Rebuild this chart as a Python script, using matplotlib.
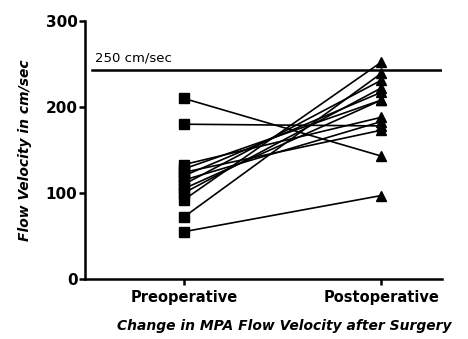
import matplotlib
matplotlib.use("Agg")
import matplotlib.pyplot as plt

# flow velocity (cm/sec), one pair per patient
pre = [210, 180, 133, 128, 124, 120, 115, 110, 105, 100, 92, 72, 55]
post = [143, 178, 188, 208, 173, 217, 183, 231, 208, 222, 252, 239, 97]
groups = ["Preoperative", "Postoperative"]
threshold = 243
threshold_label = "250 cm/sec"

plt.rcParams['font.family'] = ['DejaVu Sans']

fig = plt.figure(figsize=(4.68, 3.39), dpi=100)
ax = fig.add_axes([0.182, 0.177, 0.763, 0.761])

for a, b in zip(pre, post):
    ax.plot([0, 1], [a, b], color='black', lw=1.2, zorder=2)
ax.plot([0] * len(pre), pre, 's', color='black', ms=7, zorder=3)
ax.plot([1] * len(post), post, '^', color='black', ms=7.5, zorder=3)

ax.axhline(threshold, xmin=0.02, xmax=1, color='black', lw=1.8)
ax.text(-0.45, threshold + 7, threshold_label, fontsize=9.5, va='bottom', ha='left')

ax.set_xlim(-0.5, 1.31)
ax.set_ylim(0, 300)
ax.set_yticks([0, 100, 200, 300])
ax.set_xticks([0, 1])
ax.set_xticklabels(groups, fontsize=10.5, fontweight='bold')
for lbl in ax.get_yticklabels():
    lbl.set_fontsize(11)
    lbl.set_fontweight('bold')

for s in ['top', 'right']:
    ax.spines[s].set_visible(False)
for s in ['left', 'bottom']:
    ax.spines[s].set_linewidth(1.8)
ax.tick_params(axis='y', direction='out', length=4, width=1.8, pad=1.5)
ax.tick_params(axis='x', direction='out', length=4, width=1.8, pad=4)

ax.set_ylabel('Flow Velocity in cm/sec', fontsize=10, fontweight='bold', style='italic')
ax.set_xlabel('Change in MPA Flow Velocity after Surgery', fontsize=10, fontweight='bold', style='italic')
ax.xaxis.set_label_coords(0.557, -0.155)
ax.yaxis.set_label_coords(-0.15, 0.5)

fig.savefig('out.png', dpi=100)
